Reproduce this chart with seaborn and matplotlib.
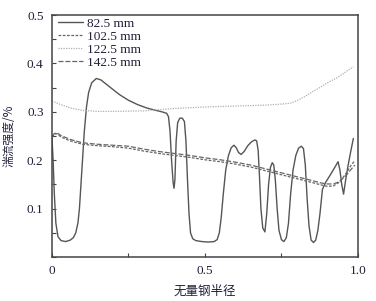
import numpy as np
import pandas as pd
import matplotlib
matplotlib.use("Agg")
import matplotlib.pyplot as plt
import seaborn as sns
from matplotlib.ticker import MultipleLocator

sns.set_theme(style="white")
plt.rcParams['font.family'] = ['Liberation Serif', 'Noto Sans CJK SC', 'DejaVu Sans']

# ---- data ----
x_825 = [0, 0.004, 0.008, 0.013, 0.02, 0.03, 0.045, 0.06, 0.07, 0.078, 0.085, 0.09, 0.095, 0.1,
         0.106, 0.113, 0.12, 0.13, 0.145, 0.16, 0.18, 0.2, 0.22, 0.25, 0.28, 0.31, 0.34, 0.36,
         0.375, 0.381, 0.386, 0.391, 0.396, 0.399, 0.402, 0.406, 0.411, 0.418, 0.426, 0.433,
         0.438, 0.443, 0.448, 0.453, 0.46, 0.47, 0.49, 0.51, 0.53, 0.54, 0.547, 0.553, 0.56,
         0.568, 0.577, 0.586, 0.595, 0.602, 0.61, 0.618, 0.628, 0.64, 0.652, 0.663, 0.669,
         0.674, 0.678, 0.683, 0.689, 0.696, 0.702, 0.708, 0.714, 0.72, 0.725, 0.73, 0.736,
         0.742, 0.75, 0.758, 0.766, 0.773, 0.78, 0.788, 0.797, 0.806, 0.815, 0.822, 0.828,
         0.834, 0.84, 0.847, 0.855, 0.862, 0.869, 0.876, 0.884, 0.895, 0.91, 0.925, 0.935,
         0.941, 0.947, 0.953, 0.96, 0.968, 0.977, 0.985]
y_825 = [0.25, 0.2, 0.13, 0.07, 0.042, 0.034, 0.032, 0.035, 0.04, 0.05, 0.07, 0.1, 0.15, 0.2,
         0.26, 0.31, 0.34, 0.36, 0.369, 0.366, 0.356, 0.346, 0.336, 0.324, 0.315, 0.308, 0.303, 0.3,
         0.297, 0.29, 0.26, 0.2, 0.155, 0.142, 0.16, 0.24, 0.278, 0.287, 0.287, 0.28,
         0.24, 0.16, 0.09, 0.05, 0.038, 0.034, 0.032, 0.031, 0.032, 0.036, 0.05, 0.08, 0.13,
         0.18, 0.21, 0.226, 0.231, 0.226, 0.216, 0.212, 0.218, 0.23, 0.238, 0.242, 0.24,
         0.22, 0.17, 0.1, 0.06, 0.052, 0.09, 0.15, 0.185, 0.195, 0.19, 0.16, 0.1,
         0.055, 0.036, 0.032, 0.04, 0.07, 0.13, 0.18, 0.21, 0.225, 0.229, 0.224, 0.19,
         0.12, 0.065, 0.035, 0.03, 0.035, 0.055, 0.09, 0.14, 0.155, 0.17, 0.186, 0.197,
         0.18, 0.15, 0.13, 0.16, 0.19, 0.22, 0.245]

x_1025 = [0, 0.008, 0.016, 0.03, 0.06, 0.1, 0.15, 0.2, 0.25, 0.3, 0.35, 0.4, 0.45, 0.5, 0.55,
          0.6, 0.65, 0.7, 0.75, 0.8, 0.85, 0.88, 0.9, 0.92, 0.94, 0.96, 0.98, 0.99]
y_1025 = [0.248, 0.253, 0.255, 0.248, 0.24, 0.233, 0.23, 0.228, 0.225, 0.219, 0.214, 0.21, 0.206,
          0.201, 0.197, 0.192, 0.186, 0.178, 0.17, 0.162, 0.154, 0.149, 0.146, 0.147, 0.155,
          0.172, 0.192, 0.199]

x_1225 = [0, 0.03, 0.06, 0.1, 0.15, 0.2, 0.3, 0.4, 0.5, 0.6, 0.7, 0.75, 0.78, 0.8, 0.83, 0.85,
          0.88, 0.9, 0.93, 0.95, 0.97, 0.985]
y_1225 = [0.322, 0.315, 0.308, 0.303, 0.301, 0.301, 0.302, 0.307, 0.31, 0.312, 0.314, 0.316,
          0.318, 0.323, 0.333, 0.341, 0.352, 0.36, 0.37, 0.378, 0.387, 0.393]

x_1425 = [0, 0.008, 0.016, 0.03, 0.06, 0.1, 0.15, 0.2, 0.25, 0.3, 0.35, 0.4, 0.45, 0.5, 0.55,
          0.6, 0.65, 0.7, 0.75, 0.8, 0.85, 0.88, 0.9, 0.92, 0.94, 0.96, 0.98, 0.99]
y_1425 = [0.25, 0.255, 0.257, 0.251, 0.243, 0.236, 0.233, 0.231, 0.229, 0.223, 0.218, 0.214,
          0.21, 0.205, 0.201, 0.196, 0.19, 0.182, 0.174, 0.166, 0.158, 0.153, 0.151, 0.151,
          0.156, 0.168, 0.183, 0.19]

labels = ["82.5 mm", "102.5 mm", "122.5 mm", "142.5 mm"]
xticks = [0, 0.5, 1.0]
xticklabels = ["0", "0.5", "1.0"]
yticks = [0.1, 0.2, 0.3, 0.4, 0.5]
yticklabels = ["0.1", "0.2", "0.3", "0.4", "0.5"]

series = [(x_825, y_825), (x_1025, y_1025), (x_1225, y_1225), (x_1425, y_1425)]
styles = [
    dict(color="#555555", linestyle="-", linewidth=1.0),
    dict(color="#666666", linestyle=(0, (2.2, 1.2)), linewidth=0.9),
    dict(color="#b0b0b0", linestyle=(0, (1, 1)), linewidth=0.9),
    dict(color="#666666", linestyle=(0, (4, 1.5)), linewidth=0.9),
]

fig = plt.figure(figsize=(3.76, 3.01), dpi=100)
ax = fig.add_axes([0.138, 0.146, 0.814, 0.804])

for (xs, ys), lab, st in zip(series, labels, styles):
    df = pd.DataFrame({"x": xs, "y": ys})
    sns.lineplot(data=df, x="x", y="y", ax=ax, label=lab, estimator=None, sort=False, **st)

ax.set_xlim(0, 1.0)
ax.set_ylim(0, 0.5)
ax.set_xticks(xticks)
ax.set_xticklabels(xticklabels)
ax.set_yticks(yticks)
ax.set_yticklabels(yticklabels)
ax.xaxis.set_minor_locator(MultipleLocator(0.25))
ax.yaxis.set_minor_locator(MultipleLocator(0.05))
tc = "#20203a"
ax.tick_params(which="both", direction="in", left=True, bottom=True, top=False, right=False,
               colors="#444444", labelcolor=tc, labelsize=9.5)
ax.tick_params(which="major", length=3, width=0.8, pad=6)
ax.tick_params(which="minor", length=3, width=0.8)
for sp in ax.spines.values():
    sp.set_color("#444444")
    sp.set_linewidth(1.1)

ax.set_xlabel("无量钢半径", family=['Noto Sans CJK SC'], fontsize=9, color=tc, labelpad=5)
ax.set_ylabel("湍流强度/%", family=['Noto Sans CJK SC'], fontsize=8.5, color=tc, labelpad=8)

leg = ax.legend(loc="upper left", frameon=False, fontsize=9.5, handlelength=1.9,
                labelspacing=0.05, borderaxespad=0.0, handletextpad=0.3,
                borderpad=0.2, bbox_to_anchor=(0.01, 1.0))
for t in leg.get_texts():
    t.set_color(tc)

fig.savefig("out.png", dpi=100, facecolor="white")
